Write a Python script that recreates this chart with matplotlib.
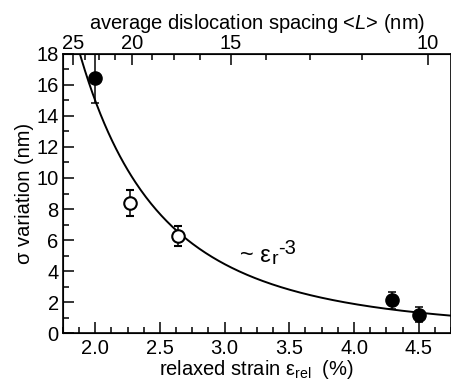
import numpy as np
import matplotlib
matplotlib.use("Agg")
from matplotlib import pyplot as plt
from matplotlib.ticker import MultipleLocator, FixedLocator, NullFormatter

plt.rcParams['font.family'] = ['Liberation Sans', 'DejaVu Sans']
plt.rcParams['font.size'] = 14.5
plt.rcParams['mathtext.fontset'] = 'custom'
plt.rcParams['mathtext.rm'] = 'Liberation Sans'
plt.rcParams['mathtext.it'] = 'Liberation Sans:italic'

# measured points (relaxed strain in %, sigma variation in nm)
filled_x = [2.0, 4.29, 4.5]
filled_y = [16.47, 2.1, 1.18]
filled_err = [1.65, 0.52, 0.5]

open_x = [2.272, 2.64]
open_y = [8.37, 6.26]
open_err = [0.85, 0.62]

# ~ eps^-3 guide
amp = 120.0
# top axis: L = c / eps
c_L = 45.7
top_major = [25, 20, 15, 10]
top_minor = [25 - 1.25 * k for k in range(13)]

fig = plt.figure(figsize=(4.52, 3.87), dpi=100)
ax = fig.add_axes([0.139, 0.1395, 0.859, 0.721])

xc = np.linspace(1.75, 4.75, 300)
ax.plot(xc, amp / xc**3, color='black', lw=1.4)

ax.errorbar(filled_x, filled_y, yerr=filled_err, fmt='o', color='black',
            ms=9.5, capsize=3, elinewidth=1.1, capthick=1.1)
ax.errorbar(open_x, open_y, yerr=open_err, fmt='o', color='black', mfc='white',
            mec='black', mew=1.5, ms=9, capsize=3, elinewidth=1.1, capthick=1.1)

# fit label, sub/superscript placed after the epsilon
t = ax.text(3.12, 4.6, '~ ε', fontsize=17, va='baseline')
sub = ax.annotate('r', xy=(1, 0), xycoords=t, xytext=(0.5, -1), textcoords='offset points',
                  ha='left', va='bottom', fontsize=14)
ax.annotate('-3', xy=(1, 1), xycoords=sub, xytext=(0, 2), textcoords='offset points',
            ha='left', va='center', fontsize=14.5)

ax.set_xlim(1.75, 4.75)
ax.set_ylim(0, 18)
ax.xaxis.set_major_locator(MultipleLocator(0.5))
ax.xaxis.set_minor_locator(MultipleLocator(0.125))
ax.yaxis.set_major_locator(MultipleLocator(2))
ax.yaxis.set_minor_locator(MultipleLocator(1))
ax.xaxis.set_major_formatter(matplotlib.ticker.FormatStrFormatter('%.1f'))
ax.tick_params(which='both', direction='in', width=1.1)
ax.tick_params(which='major', length=8)
ax.tick_params(which='minor', length=4)
ax.tick_params(axis='x', which='both', top=False, pad=4)
ax.tick_params(axis='y', which='both', right=False, pad=3)
for s in ax.spines.values():
    s.set_linewidth(1.2)

ax.set_xlabel(r'relaxed strain $\mathrm{\epsilon_{rel}}$  (%)', labelpad=0)
ax.set_ylabel(r'σ variation (nm)', labelpad=2)

# top axis in dislocation spacing
top = ax.twiny()
top.set_xlim(ax.get_xlim())
top.xaxis.set_major_locator(FixedLocator([c_L / v for v in top_major]))
top.xaxis.set_minor_locator(FixedLocator([c_L / v for v in top_minor]))
top.set_xticklabels([str(v) for v in top_major])
top.xaxis.set_minor_formatter(NullFormatter())
top.tick_params(which='both', direction='in', width=1.1, pad=1)
top.tick_params(which='major', length=8)
top.tick_params(which='minor', length=4)
top.set_xlabel(r'average dislocation spacing <$\mathit{L}$> (nm)', labelpad=3)

fig.savefig('out.png', dpi=100)
